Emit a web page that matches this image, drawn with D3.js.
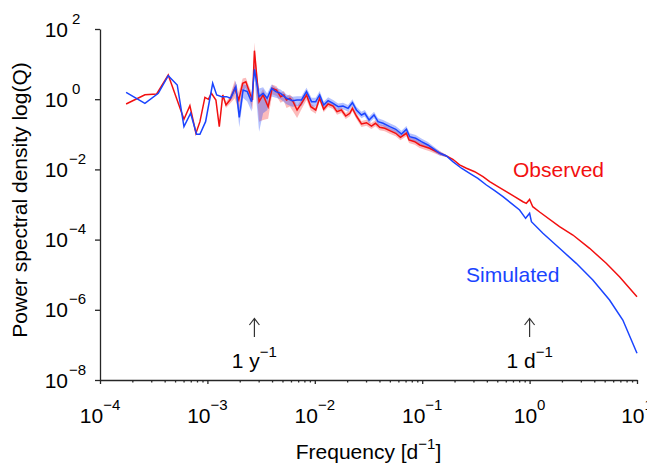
<!DOCTYPE html>
<html>
<head>
<meta charset="utf-8">
<script src="https://cdn.jsdelivr.net/npm/d3@7"></script>
<style>
  body { margin: 0; background: #fff; }
  svg { display: block; font-family: "Liberation Sans", Arial, Helvetica, sans-serif; }
  .axis path, .axis line { stroke: #262626; stroke-width: 1.3; }
</style>
</head>
<body>
<div id="chart"></div>
<script>
// observed spectrum (red)
var obsFreq = [1.75e-4, 2.62e-4, 3.37e-4, 4.32e-4, 6.05e-4, 6.87e-4, 7.82e-4, 8.52e-4, 9.48e-4, 1.02e-3,
  1.09e-3, 1.20e-3, 1.29e-3, 1.39e-3, 1.49e-3, 1.62e-3, 1.80e-3, 1.96e-3, 2.13e-3, 2.28e-3,
  2.49e-3, 2.63e-3, 2.74e-3, 3.03e-3, 3.30e-3, 3.68e-3, 4.01e-3, 4.40e-3, 4.80e-3, 5.15e-3,
  5.45e-3, 5.86e-3, 6.28e-3, 6.84e-3, 7.52e-3, 8.37e-3, 9.18e-3, 1.02e-2, 1.11e-2, 1.21e-2,
  1.33e-2, 1.48e-2, 1.61e-2, 1.77e-2, 1.94e-2, 2.12e-2, 2.24e-2, 2.44e-2, 2.72e-2, 3.03e-2,
  3.37e-2, 3.67e-2, 4.02e-2, 4.48e-2, 4.99e-2, 5.67e-2, 6.27e-2, 7.13e-2, 7.54e-2, 8.52e-2,
  9.48e-2, 0.106, 0.117, 0.146, 0.168, 0.193, 0.223, 0.258, 0.308, 0.368,
  0.425, 0.507, 0.607, 0.725, 0.867, 0.932, 1.0, 1.07, 1.24, 1.90,
  2.53, 3.62, 5.17, 6.87, 10];
var obsPsd = [0.73, 1.34, 1.41, 4.89, 0.268, 0.653, 0.107, 0.229, 1.13, 0.994,
  1.47, 0.949, 0.165, 1.32, 0.684, 0.949, 2.04, 0.949, 2.84, 3.15,
  1.47, 0.949, 24.1, 0.849, 1.32, 0.611, 2.04, 1.83, 1.18, 1.32,
  0.949, 1.06, 0.849, 0.493, 0.764, 1.32, 0.611, 0.493, 1.06, 0.516,
  0.73, 0.64, 0.441, 0.493, 0.332, 0.397, 0.55, 0.332, 0.197, 0.214,
  0.172, 0.206, 0.158, 0.148, 0.127, 0.107, 0.0821, 0.107, 0.0688, 0.0615,
  0.0496, 0.0443, 0.0399, 0.0288, 0.0241, 0.0194, 0.0134, 0.0108, 8.6e-3, 6.19e-3,
  4.46e-3, 3.21e-3, 2.32e-3, 1.67e-3, 1.20e-3, 1.08e-3, 1.39e-3, 8.66e-4, 6.11e-4, 2.33e-4,
  1.35e-4, 5.65e-5, 2.11e-5, 8.77e-6, 2.36e-6];
// spread of the observed band, in decades above / below the line
var obsUp = [0, 0, 0, 0, 0, 0, 0, 0, 0, 0,
  0, 0, 0, .06, .085, .11, .23, .23, .14, .11,
  .14, .17, .23, .17, .17, .17, .11, .11, .11, .11,
  .11, .11, .11, .11, .11, .11, .085, .085, .085, .085,
  .085, .085, .085, .085, .085, .085, .085, .085, .085, .085,
  .085, .085, .085, .085, .085, .085, .085, .085, .085, .085,
  .085, .085, .085, .06, .03, 0, 0, 0, 0, 0,
  0, 0, 0, 0, 0, 0, 0, 0, 0, 0,
  0, 0, 0, 0, 0];
var obsDown = [0, 0, 0, 0, 0, 0, 0, 0, 0, 0,
  0, 0, 0, .06, .085, .11, .28, .34, .23, .17,
  .23, .28, .57, .57, .71, .34, .17, .17, .17, .17,
  .23, .23, .28, .23, .17, .14, .11, .11, .085, .085,
  .085, .085, .085, .085, .085, .085, .085, .085, .085, .085,
  .085, .085, .085, .085, .085, .085, .085, .085, .085, .085,
  .085, .085, .085, .06, .03, 0, 0, 0, 0, 0,
  0, 0, 0, 0, 0, 0, 0, 0, 0, 0,
  0, 0, 0, 0, 0];

// simulated spectrum (blue)
var simFreq = [1.75e-4, 2.62e-4, 3.49e-4, 4.32e-4, 5.24e-4, 6.05e-4, 6.98e-4, 7.93e-4, 8.52e-4, 9.62e-4,
  1.12e-3, 1.22e-3, 1.36e-3, 1.51e-3, 1.64e-3, 1.84e-3, 1.98e-3, 2.15e-3, 2.35e-3, 2.58e-3,
  2.74e-3, 3.03e-3, 3.30e-3, 3.60e-3, 3.96e-3, 4.34e-3, 4.80e-3, 5.45e-3, 6.20e-3, 6.84e-3,
  7.52e-3, 8.37e-3, 9.32e-3, 1.02e-2, 1.11e-2, 1.21e-2, 1.33e-2, 1.48e-2, 1.65e-2, 1.83e-2,
  2.04e-2, 2.24e-2, 2.44e-2, 2.72e-2, 2.92e-2, 3.20e-2, 3.56e-2, 3.88e-2, 4.32e-2, 4.99e-2,
  5.67e-2, 6.41e-2, 7.13e-2, 7.65e-2, 8.70e-2, 9.83e-2, 0.113, 0.146, 0.168, 0.193,
  0.232, 0.277, 0.330, 0.396, 0.473, 0.565, 0.676, 0.807, 0.918, 1.0,
  1.04, 1.33, 1.90, 2.72, 3.88, 5.55, 7.38, 10];
var simPsd = [1.57, 0.764, 1.47, 4.67, 2.54, 0.165, 0.397, 0.1, 0.1, 0.229,
  2.84, 1.32, 1.18, 1.18, 1.06, 2.27, 0.305, 1.83, 1.64, 0.849,
  7.11, 1.18, 1.47, 1.06, 2.04, 1.64, 1.47, 1.06, 0.906, 0.949,
  0.949, 1.64, 0.849, 0.849, 1.32, 0.684, 0.906, 0.764, 0.611, 0.64,
  0.55, 0.795, 0.493, 0.355, 0.397, 0.256, 0.355, 0.229, 0.206, 0.165,
  0.139, 0.102, 0.139, 0.0854, 0.0769, 0.0615, 0.0496, 0.0288, 0.0241, 0.0166,
  0.0108, 7.74e-3, 5.58e-3, 3.59e-3, 2.47e-3, 1.67e-3, 1.08e-3, 6.97e-4, 4.04e-4, 5.61e-4,
  3.24e-4, 1.51e-4, 5.65e-5, 2.11e-5, 7.06e-6, 1.90e-6, 5.12e-7, 5.76e-8];
var simUp = [0, 0, 0, 0, 0, 0, 0, 0, 0, 0,
  0, 0, 0, 0, .085, .17, .28, .17, .17, .17,
  .17, .23, .17, .14, .11, .11, .11, .11, .11, .11,
  .11, .11, .11, .11, .11, .095, .095, .095, .095, .095,
  .095, .095, .095, .095, .095, .095, .095, .095, .095, .095,
  .095, .095, .095, .095, .095, .095, .085, .06, .03, 0,
  0, 0, 0, 0, 0, 0, 0, 0, 0, 0,
  0, 0, 0, 0, 0, 0, 0, 0];
var simDown = [0, 0, 0, 0, 0, 0, 0, 0, 0, 0,
  0, 0, 0, 0, .085, .17, .28, .23, .28, .28,
  .23, 1.0, .57, .34, .23, .17, .17, .17, .17, .17,
  .17, .14, .14, .14, .14, .095, .095, .095, .095, .095,
  .095, .095, .095, .095, .095, .095, .095, .095, .095, .095,
  .095, .095, .095, .095, .095, .095, .085, .06, .03, 0,
  0, 0, 0, 0, 0, 0, 0, 0, 0, 0,
  0, 0, 0, 0, 0, 0, 0, 0];

// axis decades and the two marked periods
var xTickExp = [-4, -3, -2, -1, 0, 1];
var yTickExp = [2, 0, -2, -4, -6, -8];
var markFreq = [1 / 365, 1];
var markLabel = ["1 y", "1 d"];

var red = "#f21010", blue = "#1a44ff";

var svg = d3.select('#chart').append('svg')
  .attr('width', 647)
  .attr('height', 468);

var x = d3.scaleLog().domain([1e-4, 10]).range([100, 637]);
var y = d3.scaleLog().domain([1e-8, 1e2]).range([380, 29]);

function rows(freq, psd, up, down) {
  return freq.map(function(f, i) {
    return {f: f, v: psd[i], up: up[i], down: down[i]};
  });
}
var obs = rows(obsFreq, obsPsd, obsUp, obsDown);
var sim = rows(simFreq, simPsd, simUp, simDown);

// shaded spread bands
var band = d3.area()
  .defined(function(d) { return d.up > 0 || d.down > 0; })
  .x(function(d) { return x(d.f); })
  .y0(function(d) { return y(d.v / Math.pow(10, d.down)); })
  .y1(function(d) { return y(d.v * Math.pow(10, d.up)); });

svg.append('path').attr('d', band(obs)).attr('fill', 'rgba(245,60,60,0.35)');
svg.append('path').attr('d', band(sim)).attr('fill', 'rgba(40,80,255,0.35)');

var line = d3.line()
  .x(function(d) { return x(d.f); })
  .y(function(d) { return y(d.v); });

svg.append('path').attr('d', line(obs)).attr('fill', 'none')
  .attr('stroke', red).attr('stroke-width', 1.5);
svg.append('path').attr('d', line(sim)).attr('fill', 'none')
  .attr('stroke', blue).attr('stroke-width', 1.5);

// axes
var yTicks = yTickExp.map(function(e) { return Math.pow(10, e); });
var xTicks = xTickExp.map(function(e) { return Math.pow(10, e); });
var minorTicks = [];
xTickExp.slice(0, -1).forEach(function(e) {
  for (var k = 2; k < 10; k++) minorTicks.push(k * Math.pow(10, e));
});

svg.append('g').attr('class', 'axis').attr('transform', 'translate(100,0)')
  .call(d3.axisLeft(y).tickValues(yTicks).tickSize(5).tickSizeOuter(0).tickFormat(''));
svg.append('g').attr('class', 'axis').attr('transform', 'translate(0,380)')
  .call(d3.axisBottom(x).tickValues(xTicks).tickSize(4).tickSizeOuter(0).tickFormat(''));
svg.append('g').attr('class', 'axis minor').attr('transform', 'translate(0,380)')
  .call(d3.axisBottom(x).tickValues(minorTicks).tickSize(2.5).tickFormat(''))
  .select('.domain').remove();

function expText(e) { return (e < 0 ? '\u2212' + (-e) : '' + e); }

// y tick labels: "10" then raised exponent
yTickExp.forEach(function(e) {
  var ty = y(Math.pow(10, e));
  svg.append('text').attr('x', 68).attr('y', ty + 7.5)
    .attr('text-anchor', 'end').attr('font-size', 21).text('10');
  svg.append('text').attr('x', e < 0 ? 69 : 72).attr('y', ty - 5.5)
    .attr('font-size', 15).text(expText(e));
});

// x tick labels
xTickExp.forEach(function(e) {
  var t = svg.append('text').attr('x', x(Math.pow(10, e))).attr('y', 423)
    .attr('text-anchor', 'middle').attr('font-size', 21);
  t.append('tspan').text('10');
  t.append('tspan').attr('dy', -13).attr('font-size', 15).text(expText(e));
});

// period markers
markFreq.forEach(function(f, i) {
  var mx = x(f);
  svg.append('path')
    .attr('d', 'M' + mx + ',337V319M' + (mx - 5) + ',325L' + mx + ',318.5L' + (mx + 5) + ',325')
    .attr('fill', 'none').attr('stroke', '#333').attr('stroke-width', 1.2);
  var t = svg.append('text').attr('x', mx).attr('y', 368)
    .attr('text-anchor', 'middle').attr('font-size', 21);
  t.append('tspan').text(markLabel[i]);
  t.append('tspan').attr('dy', -11).attr('font-size', 15).text('\u22121');
});

// series labels
svg.append('text').attr('x', 513).attr('y', 177).attr('font-size', 21)
  .attr('fill', red).text('Observed');
svg.append('text').attr('x', 466).attr('y', 282).attr('font-size', 21)
  .attr('fill', blue).text('Simulated');

// axis titles
svg.append('text').attr('transform', 'translate(27,200) rotate(-90)')
  .attr('text-anchor', 'middle').attr('font-size', 21)
  .text('Power spectral density log(Q)');
var xt = svg.append('text').attr('x', 368.5).attr('y', 459)
  .attr('text-anchor', 'middle').attr('font-size', 21);
xt.append('tspan').text('Frequency [d');
xt.append('tspan').attr('dy', -10).attr('font-size', 15).text('\u22121');
xt.append('tspan').attr('dy', 10).text(']');
</script>
</body>
</html>
